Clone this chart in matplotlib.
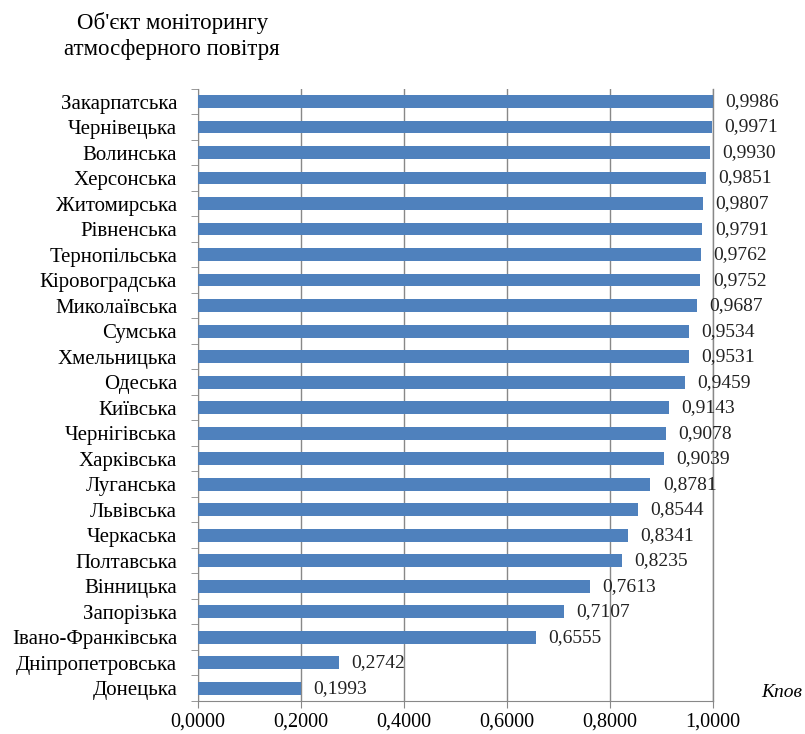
import numpy as np
import matplotlib.pyplot as plt
from matplotlib.ticker import FixedLocator

regions = ["Закарпатська", "Чернівецька", "Волинська", "Херсонська", "Житомирська",
           "Рівненська", "Тернопільська", "Кіровоградська", "Миколаївська", "Сумська",
           "Хмельницька", "Одеська", "Київська", "Чернігівська", "Харківська",
           "Луганська", "Львівська", "Черкаська", "Полтавська", "Вінницька",
           "Запорізька", "Івано-Франківська", "Дніпропетровська", "Донецька"]
values = [0.9986, 0.9971, 0.9930, 0.9851, 0.9807, 0.9791, 0.9762, 0.9752, 0.9687, 0.9534,
          0.9531, 0.9459, 0.9143, 0.9078, 0.9039, 0.8781, 0.8544, 0.8341, 0.8235, 0.7613,
          0.7107, 0.6555, 0.2742, 0.1993]
x_ticks = [0.0, 0.2, 0.4, 0.6, 0.8, 1.0]

plt.rcParams['font.family'] = ['Liberation Serif', 'DejaVu Serif']

fig = plt.figure(figsize=(8.05, 7.34), dpi=100)
ax = fig.add_axes([0.246, 0.045, 0.64, 0.834])

y = np.arange(len(regions))[::-1]
ax.barh(y, values, height=0.5, color='#4F81BD', zorder=3)

for yi, v in zip(y, values):
    ax.text(v + 0.024, yi, f"{v:.4f}".replace('.', ','), va='center', ha='left',
            fontsize=14, color='#222222')

ax.set_xlim(0, 1.0)
ax.set_ylim(-0.5, len(regions) - 0.5)
ax.set_xticks(x_ticks)
ax.set_xticklabels([f"{t:.4f}".replace('.', ',') for t in x_ticks], fontsize=14.5)
ax.set_yticks(y)
ax.set_yticklabels(regions, fontsize=15)
ax.tick_params(axis='y', length=0, pad=15)
ax.yaxis.set_minor_locator(FixedLocator(np.arange(-0.5, len(regions), 1.0)))
ax.tick_params(axis='y', which='minor', length=5, color='#888888')
ax.tick_params(axis='x', length=5, color='#888888', pad=3)
ax.grid(axis='x', color='#888888', linewidth=1, zorder=0)
ax.axvline(1.0, color='#888888', linewidth=1, zorder=0, clip_on=False)

for s in ['top', 'right']:
    ax.spines[s].set_visible(False)
for s in ['left', 'bottom']:
    ax.spines[s].set_color('#888888')

fig.text(0.214, 0.951, "Об'єкт моніторингу\nатмосферного повітря", ha='center', va='center',
         fontsize=16.5, linespacing=1.3)
fig.text(0.996, 0.057, "Кпов", ha='right', va='center', fontsize=14, style='italic')

fig.savefig("out.png", dpi=100)
